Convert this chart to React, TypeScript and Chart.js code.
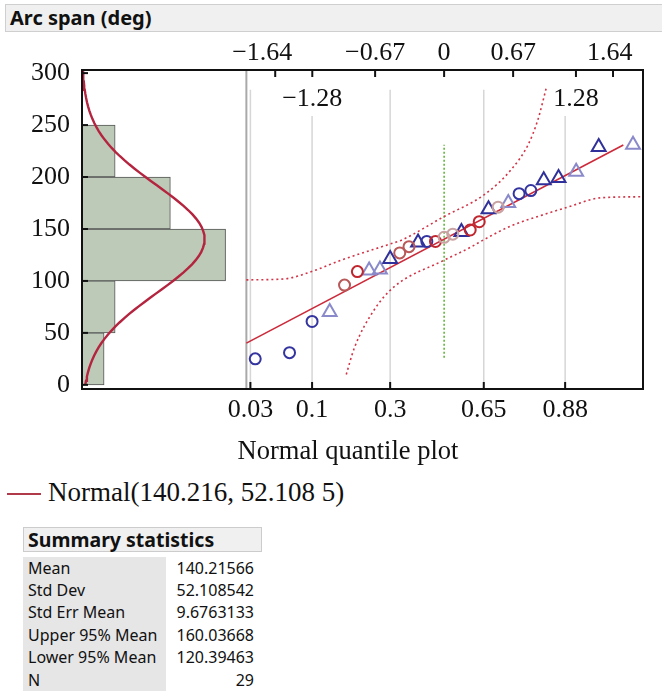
import React, { useEffect, useRef } from 'react';
import { Chart, registerables } from 'chart.js';

Chart.register(...registerables);

// ---- summary statistics ----
const MEAN = 140.21566;
const STD_DEV = 52.108542;
const N = 29;
const BIN_WIDTH = 50;

// ---- histogram ----
const BIN_CENTERS = [25, 75, 125, 175, 225];
const BIN_COUNTS = [2, 3, 13, 8, 3];
const Y_TICKS = [0, 50, 100, 150, 200, 250, 300];

// ---- normal quantile plot points ----
const NORMAL_QUANTILES = [-1.834, -1.501, -1.282, -1.111, -0.967, -0.842, -0.728, -0.623, -0.524, -0.431, -0.341, -0.253, -0.168, -0.084, 0, 0.084, 0.168, 0.253, 0.341, 0.431, 0.524, 0.623, 0.728, 0.842, 0.967, 1.111, 1.282, 1.501, 1.834];
const ARC_SPAN = [25, 31, 61, 70, 96, 109, 110, 111, 121, 127, 133, 137, 138, 138, 142, 145, 147, 149, 157, 169, 171, 175, 184, 187, 197, 199, 205, 229, 231];
const MARKER_GROUP = ['bc', 'bc', 'bc', 'pt', 'mc', 'rc', 'pt', 'pt', 'bt', 'mc', 'mc', 'bt', 'bc', 'rc', 'lc', 'lc', 'bt', 'rc', 'rc', 'bt', 'lc', 'pt', 'bc', 'bc', 'bt', 'bt', 'pt', 'bt', 'pt'];
const GROUPS = ['lc', 'mc', 'rc', 'pt', 'bc', 'bt'];

// ---- axes ----
const BOTTOM_Z = [-1.881, -1.282, -0.524, 0.385, 1.175];
const BOTTOM_LABELS = ['0.03', '0.1', '0.3', '0.65', '0.88'];
const TOP_Z = [-1.64, -1.28, -0.67, 0, 0.67, 1.28, 1.64];
const TOP_LABELS = ['\u22121.64    ', '', '\u22120.67', '0', '0.67', '', '1.64 '];
const INNER_TOP_Z = [-1.28, 1.28];
const INNER_TOP_LABELS = ['\u22121.28', '1.28'];

// ---- fit / confidence bands / median ----
const FIT_Z = [-1.92, 1.74];
const UPPER_BAND_Z = [-1.92, -1.55, -1.26, -1.0, -0.51, -0.42, 0.0, 0.39, 0.65, 0.815, 0.91, 0.99];
const UPPER_BAND_V = [101, 102, 110, 120, 136, 139, 162, 183, 207, 231, 255, 285];
const LOWER_BAND_Z = [-0.95, -0.87, -0.68, -0.49, 0.0, 0.23, 0.41, 0.65, 0.94, 1.2, 1.52, 1.91];
const LOWER_BAND_V = [10, 36, 72, 94, 120, 131, 141, 153, 163, 171, 180, 181];
const MEDIAN_Z = 0;
const MEDIAN_RANGE = [26, 231];

const STATS_LABELS = ['Mean', 'Std Dev', 'Std Err Mean', 'Upper 95% Mean', 'Lower 95% Mean', 'N'];
const STATS_VALUES = ['140.21566', '52.108542', '9.6763133', '160.03668', '120.39463', '29'];

// ---- scale ranges ----
const Y_MIN = -4;
const Y_MAX = 303;
const Z_MIN = -3.516;
const Z_MAX = 1.931;
const COUNT_MAX = 50.8;
const DIVIDER_Z = -1.92;
const GRID_TOP = 284;

const SERIF = '"Liberation Serif", "Times New Roman", serif';
const SANS = '"Noto Sans", "Open Sans", sans-serif';

const GROUP_STYLE: Record<string, { style: string; color: string }> = {
  bc: { style: 'circle', color: '#3434a0' },
  bt: { style: 'triangle', color: '#30309a' },
  pt: { style: 'triangle', color: '#8a8acb' },
  rc: { style: 'circle', color: '#c0262e' },
  mc: { style: 'circle', color: '#b85858' },
  lc: { style: 'circle', color: '#c9a2a2' },
};

const decorPlugin = {
  id: 'decor',
  beforeDatasetsDraw(chart: any) {
    const { ctx, chartArea: a, scales } = chart;
    const xq = scales.xq;
    const xt = scales.xt;
    const y = scales.y;
    ctx.save();
    const yTop = y.getPixelForValue(GRID_TOP);
    ctx.strokeStyle = '#d6d6d6';
    ctx.lineWidth = 1.5;
    BOTTOM_Z.forEach((z) => {
      const px = xq.getPixelForValue(z);
      ctx.beginPath();
      ctx.moveTo(px, yTop);
      ctx.lineTo(px, a.bottom);
      ctx.stroke();
    });
    ctx.strokeStyle = '#a9a9a9';
    ctx.lineWidth = 2;
    const dx = xq.getPixelForValue(DIVIDER_Z);
    ctx.beginPath();
    ctx.moveTo(dx, a.top);
    ctx.lineTo(dx, a.bottom);
    ctx.stroke();
    ctx.font = '26px ' + SERIF;
    ctx.textAlign = 'center';
    ctx.textBaseline = 'middle';
    INNER_TOP_Z.forEach((z, i) => {
      const px = xt.getPixelForValue(z);
      const w = ctx.measureText(INNER_TOP_LABELS[i]).width;
      ctx.fillStyle = '#ffffff';
      ctx.fillRect(px - w / 2 - 2, a.top + 14, w + 4, 32);
      ctx.fillStyle = '#111111';
      ctx.fillText(INNER_TOP_LABELS[i], px, a.top + 29);
    });
    ctx.restore();
  },
  afterDraw(chart: any) {
    const { ctx, chartArea: a, scales } = chart;
    const xq = scales.xq;
    const xt = scales.xt;
    const y = scales.y;
    ctx.save();
    ctx.strokeStyle = '#111111';
    ctx.lineWidth = 2;
    ctx.strokeRect(a.left, a.top, a.right - a.left, a.bottom - a.top);
    ctx.lineWidth = 2;
    Y_TICKS.forEach((v) => {
      const py = y.getPixelForValue(v);
      ctx.beginPath();
      ctx.moveTo(a.left, py);
      ctx.lineTo(a.left + 6, py);
      ctx.stroke();
    });
    TOP_Z.forEach((z) => {
      const px = xt.getPixelForValue(z);
      ctx.beginPath();
      ctx.moveTo(px, a.top);
      ctx.lineTo(px, a.top + 7);
      ctx.stroke();
    });
    BOTTOM_Z.forEach((z) => {
      const px = xq.getPixelForValue(z);
      ctx.beginPath();
      ctx.moveTo(px, a.bottom);
      ctx.lineTo(px, a.bottom - 7);
      ctx.stroke();
    });
    ctx.fillStyle = '#111111';
    ctx.font = '26.5px ' + SERIF;
    ctx.textAlign = 'center';
    ctx.textBaseline = 'alphabetic';
    ctx.fillText('Normal quantile plot', 348, 459);
    ctx.restore();
  },
};

export default function App() {
  const ref = useRef<HTMLCanvasElement>(null);

  useEffect(() => {
    const canvas = ref.current;
    if (!canvas) return;

    const curveScale = (N * BIN_WIDTH) / (STD_DEV * Math.sqrt(2 * Math.PI));
    const curveY: number[] = [];
    for (let v = 0; v <= 300; v += 4) curveY.push(v);
    curveY.push(303);
    const curve = curveY.map((v) => ({
      x: curveScale * Math.exp(-0.5 * Math.pow((v - MEAN) / STD_DEV, 2)),
      y: v,
    }));

    const pointDatasets = GROUPS.map((g) => {
      const st = GROUP_STYLE[g];
      const data = NORMAL_QUANTILES.map((z, i) => ({ x: z, y: ARC_SPAN[i], g: MARKER_GROUP[i] }))
        .filter((p) => p.g === g)
        .map((p) => ({ x: p.x, y: p.y }));
      const r = st.style === 'triangle' ? 8 : 5.5;
      return {
        type: 'scatter',
        label: g,
        data,
        xAxisID: 'xq',
        yAxisID: 'y',
        pointStyle: st.style,
        pointRadius: r,
        radius: r,
        borderColor: st.color,
        pointBorderColor: st.color,
        backgroundColor: 'rgba(0,0,0,0)',
        pointBackgroundColor: 'rgba(0,0,0,0)',
        borderWidth: 2,
        pointBorderWidth: 2,
        showLine: false,
        order: 0,
      };
    });

    const lineBase = { type: 'line', xAxisID: 'xq', yAxisID: 'y', pointRadius: 0, fill: false, showLine: true };

    const chart = new Chart(canvas, {
      type: 'scatter',
      data: {
        datasets: [
          ...(pointDatasets as any[]),
          {
            ...lineBase,
            label: 'fit',
            data: FIT_Z.map((z) => ({ x: z, y: MEAN + STD_DEV * z })),
            borderColor: '#cc2a3a',
            borderWidth: 1.6,
            order: 1,
          },
          {
            ...lineBase,
            label: 'upper',
            data: UPPER_BAND_Z.map((z, i) => ({ x: z, y: UPPER_BAND_V[i] })),
            borderColor: '#d23447',
            borderWidth: 1.6,
            borderDash: [2, 3],
            cubicInterpolationMode: 'monotone',
            order: 2,
          },
          {
            ...lineBase,
            label: 'lower',
            data: LOWER_BAND_Z.map((z, i) => ({ x: z, y: LOWER_BAND_V[i] })),
            borderColor: '#d23447',
            borderWidth: 1.6,
            borderDash: [2, 3],
            cubicInterpolationMode: 'monotone',
            order: 2,
          },
          {
            ...lineBase,
            label: 'median',
            data: MEDIAN_RANGE.map((v) => ({ x: MEDIAN_Z, y: v })),
            borderColor: '#58b030',
            borderWidth: 1.5,
            borderDash: [2, 2],
            order: 2,
          },
          {
            ...lineBase,
            label: 'normal',
            xAxisID: 'xh',
            data: curve,
            borderColor: '#b4243f',
            borderWidth: 2.4,
            order: 3,
          },
          {
            type: 'bar',
            label: 'histogram',
            indexAxis: 'y',
            grouped: false,
            xAxisID: 'xh',
            yAxisID: 'y',
            data: BIN_CENTERS.map((c, i) => ({ x: BIN_COUNTS[i], y: c })),
            backgroundColor: '#bccab7',
            borderColor: '#555555',
            borderWidth: 1,
            borderSkipped: false,
            barPercentage: 1,
            categoryPercentage: 1,
            order: 4,
          },
        ] as any,
      },
      options: {
        animation: false,
        responsive: false,
        maintainAspectRatio: false,
        events: [],
        layout: { padding: { left: 0, right: 19, top: 0, bottom: 0 } },
        plugins: { legend: { display: false }, tooltip: { enabled: false } },
        scales: {
          y: {
            type: 'linear',
            position: 'left',
            offset: false,
            min: Y_MIN,
            max: Y_MAX,
            afterBuildTicks: (s: any) => {
              s.ticks = Y_TICKS.map((v) => ({ value: v }));
            },
            afterFit: (s: any) => {
              s.width = 82;
            },
            grid: { display: false, drawTicks: false, offset: false },
            border: { display: false },
            ticks: { padding: 12, font: { family: SERIF, size: 26 }, color: '#111111', autoSkip: false },
          },
          xt: {
            axis: 'x',
            type: 'linear',
            position: 'top',
            offset: false,
            min: Z_MIN,
            max: Z_MAX,
            afterBuildTicks: (s: any) => {
              s.ticks = TOP_Z.map((v) => ({ value: v }));
            },
            afterFit: (s: any) => {
              s.height = 70;
            },
            grid: { display: false, drawTicks: false },
            border: { display: false },
            ticks: {
              padding: 1,
              autoSkip: false,
              maxRotation: 0,
              font: { family: SERIF, size: 26 },
              color: '#111111',
              callback: (_v: any, i: number) => TOP_LABELS[i],
            },
          },
          xq: {
            axis: 'x',
            type: 'linear',
            position: 'bottom',
            offset: false,
            min: Z_MIN,
            max: Z_MAX,
            afterBuildTicks: (s: any) => {
              s.ticks = BOTTOM_Z.map((v) => ({ value: v }));
            },
            afterFit: (s: any) => {
              s.height = 81;
            },
            grid: { display: false, drawTicks: false },
            border: { display: false },
            ticks: {
              padding: 6,
              autoSkip: false,
              maxRotation: 0,
              font: { family: SERIF, size: 26 },
              color: '#111111',
              callback: (_v: any, i: number) => BOTTOM_LABELS[i],
            },
          },
          xh: {
            axis: 'x',
            type: 'linear',
            display: false,
            offset: false,
            min: 0,
            max: COUNT_MAX,
          },
        } as any,
      },
      plugins: [decorPlugin as any],
    });

    return () => {
      chart.destroy();
    };
  }, []);

  return (
    <div style={{ position: 'absolute', left: 0, top: 0, width: 662, height: 693, background: '#ffffff', overflow: 'hidden' }}>
      <canvas ref={ref} width={662} height={470} style={{ position: 'absolute', left: 0, top: 0, width: 662, height: 470 }} />
      <div
        style={{
          position: 'absolute',
          left: 5,
          top: 4,
          width: 657,
          height: 28,
          boxSizing: 'border-box',
          background: '#f0f0f0',
          border: '1px solid #cfcfcf',
          borderRight: 'none',
          fontFamily: SANS,
          fontWeight: 700,
          fontSize: 20,
          lineHeight: '26px',
          paddingLeft: 4,
          color: '#111',
          whiteSpace: 'nowrap',
        }}
      >
        Arc span (deg)
      </div>
      <div style={{ position: 'absolute', left: 7, top: 493, width: 34, height: 2, background: '#b03a4a' }} />
      <div
        style={{
          position: 'absolute',
          left: 48,
          top: 477,
          fontFamily: SERIF,
          fontSize: 27,
          lineHeight: '30px',
          color: '#111',
          whiteSpace: 'nowrap',
        }}
      >
        Normal(140.216, 52.108 5)
      </div>
      <div
        style={{
          position: 'absolute',
          left: 23,
          top: 527,
          width: 239,
          height: 25,
          boxSizing: 'border-box',
          background: '#f0f0f0',
          border: '1px solid #cccccc',
          fontFamily: SANS,
          fontWeight: 700,
          fontSize: 19.5,
          lineHeight: '23px',
          paddingLeft: 4,
          color: '#111',
          whiteSpace: 'nowrap',
        }}
      >
        Summary statistics
      </div>
      <div style={{ position: 'absolute', left: 23, top: 556.6, width: 240 }}>
        {STATS_LABELS.map((lab, i) => (
          <div key={lab} style={{ display: 'flex', height: 22.4, fontFamily: SANS, fontSize: 16, lineHeight: '22.4px', color: '#111' }}>
            <div style={{ width: 143, background: '#e6e6e6', paddingLeft: 5, boxSizing: 'border-box', whiteSpace: 'nowrap' }}>{lab}</div>
            <div style={{ width: 88, textAlign: 'right', whiteSpace: 'nowrap' }}>{STATS_VALUES[i]}</div>
          </div>
        ))}
      </div>
    </div>
  );
}
